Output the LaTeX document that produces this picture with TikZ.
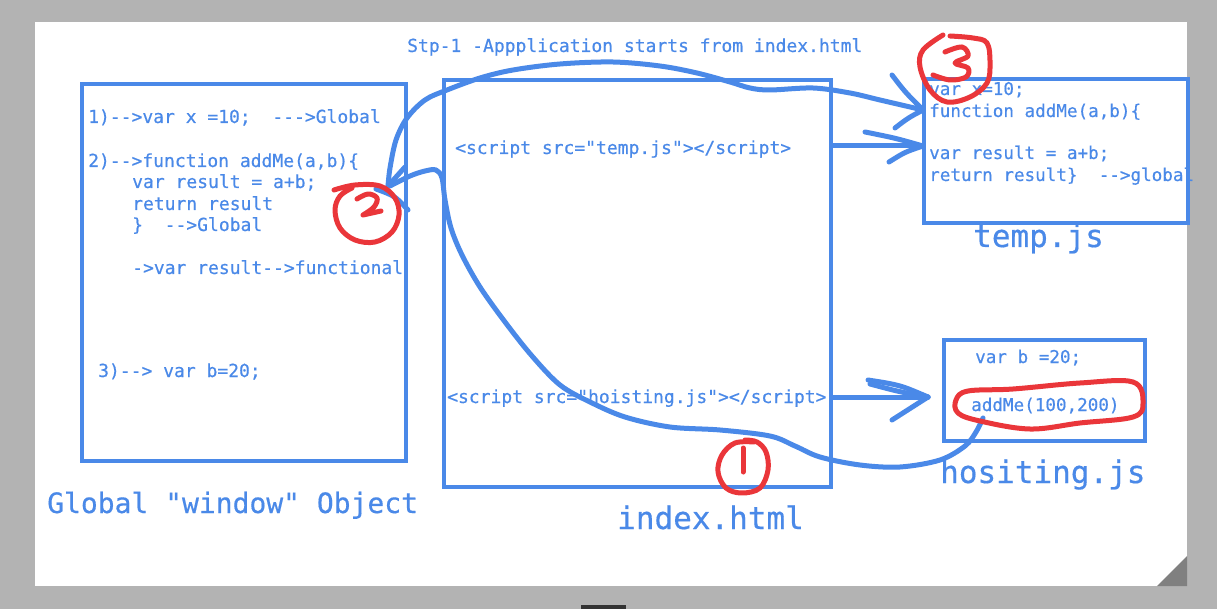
\documentclass[tikz,border=0pt]{standalone}
\usepackage{fontspec}
\setmonofont{DejaVu Sans Mono}[BoldFont={DejaVu Sans Mono}, BoldFeatures={FakeBold=0.45}]
\definecolor{hb}{RGB}{74,137,232}
\definecolor{hr}{RGB}{234,54,58}
\definecolor{bgg}{RGB}{179,179,179}
\begin{document}
\begin{tikzpicture}[x=1pt,y=-1pt,
  box/.style={draw=hb, line width=4pt, inner sep=0pt, anchor=north west},
  code/.style={text=hb, font=\ttfamily\bfseries\fontsize{18}{18}\selectfont, anchor=base west, inner sep=0pt},
  scode/.style={text=hb, font=\ttfamily\bfseries\fontsize{17.6}{18}\selectfont, anchor=base west, inner sep=0pt},
  big/.style={text=hb, font=\ttfamily\bfseries\fontsize{31}{31}\selectfont, anchor=base west, inner sep=0pt},
  bstroke/.style={draw=hb, line width=5pt, line cap=round, line join=round},
  rstroke/.style={draw=hr, line width=5pt, line cap=round, line join=round}]
\useasboundingbox (0,0) rectangle (1217,609);
\fill[bgg] (0,0) rectangle (1217,609);
\fill[white] (35,22) rectangle (1187,586);
\fill[black!50] (1157,586) -- (1187,586) -- (1187,556) -- cycle;
\fill[black!80] (581,605) rectangle (626,609);

% boxes
\node[box, minimum width=324pt, minimum height=377pt] (glob) at (80,82) {};
\node[box, minimum width=387pt, minimum height=407pt] (idx) at (442,78) {};
\node[box, minimum width=264pt, minimum height=144pt] (temp) at (922,77) {};
\node[box, minimum width=201pt, minimum height=101pt] (hois) at (942,338) {};

% title
\node[code] (title) at (407,52) {Stp-1 -Appplication starts from index.html};

% global box text
\node[code] (g1) at (88,123) {1)-{}->var x =10;~~-{}-{}->Global};
\node[code] (g2) at (88,167) {2)-{}->function addMe(a,b)\{};
\node[code] (g3) at (132,188) {var result = a+b;};
\node[code] (g4) at (132,210) {return result};
\node[code] (g5) at (132,231) {\}~~-{}->Global};
\node[code] (g6) at (132,274) {->var result-{}->functional};
\node[code] (g7) at (98,377) {3)-{}-> var b=20;};
\node[text=hb, font=\ttfamily\bfseries\fontsize{28}{28}\selectfont, anchor=base west, inner sep=0pt] (glab) at (47,513) {Global "window" Object};

% index text
\node[code] (s1) at (455,154) {<script src="temp.js"></script>};
\node[code] (s2) at (447,403) {<script src="hoisting.js"></script>};
\node[big] (ilab) at (617,529) {index.html};

% temp.js text
\node[scode] (t1) at (929,95) {var x=10;};
\node[scode] (t2) at (929,117) {function addMe(a,b)\{};
\node[scode] (t3) at (929,159) {var result = a+b;};
\node[scode] (t4) at (929,181) {return result\}~~-{}->global};
\node[big] (tlab) at (973,247) {temp.js};

% hositing.js text
\node[scode] (h1) at (975,363) {var b =20;};
\node[scode] (h2) at (971,411) {addMe(100,200)};
\node[big] (hlab) at (940,483) {hositing.js};

% named coordinates for hand-drawn connectors
\coordinate (tipA) at (923,146);
\coordinate (tipH) at (928,397);
\coordinate (tipB) at (923,110);
\coordinate (tip2) at (388,186);

% index -> temp.js
\draw[bstroke] (idx.east |- tipA) -- (tipA);
\draw[bstroke] (865,132) .. controls (895,138) .. (tipA);
\draw[bstroke] (889,162) .. controls (905,152) .. (tipA);

% index -> hositing.js
\draw[bstroke] (idx.east |- tipH) -- (tipH);
\draw[bstroke] (868,380) .. controls (900,385) .. (tipH);
\draw[bstroke] (870,384) .. controls (900,392) .. (tipH);
\draw[bstroke] (892,420) .. controls (910,408) .. (tipH);

% curve from addMe call back to global (2)
\draw[bstroke] plot[smooth, tension=0.55] coordinates {(983,418) (976,432) (965,446) (940,460) (900,467) (860,465) (820,457) (795,446) (770,436) (720,430) (670,427) (625,417) (590,402) (560,385) (532,356) (505,322) (480,287) (462,255) (451,228) (445,200) (442,178) (436,170) (425,171) (410,176) (390,186)};
\draw[bstroke] (405,167) -- (tip2);
\draw[bstroke] (376,189) .. controls (395,196) .. (408,210);

% curve from (2) over to temp.js (3)
\draw[bstroke] plot[smooth, tension=0.55] coordinates {(388,186) (390,168) (396,140) (407,118) (425,100) (447,90) (480,78) (513,70) (560,64) (613,62) (660,66) (697,73) (730,82) (750,88) (770,90) (813,88) (850,93) (880,100) (923,110)};
\draw[bstroke] (892,75) .. controls (905,92) .. (tipB);
\draw[bstroke] (895,128) .. controls (908,118) .. (tipB);

% red marks
% (1)
\draw[rstroke] plot[smooth, tension=0.6] coordinates {(754,442) (735,443) (722,455) (718,472) (726,488) (742,493) (760,488) (768,470) (766,452) (757,442) (745,440)};
\draw[rstroke] (743,448) -- (743,472);
% (2)
\draw[rstroke] plot[smooth, tension=0.6] coordinates {(334,190) (355,185) (380,186) (395,198) (399,215) (392,232) (375,242) (355,240) (340,228) (335,210) (340,196) (352,188)};
\draw[rstroke] plot[smooth, tension=0.6] coordinates {(357,199) (368,194) (377,198) (374,207) (363,215)} -- (381,211);
% (3)
\draw[rstroke] plot[smooth, tension=0.6] coordinates {(943,35) (923,50) (920,67) (930,90) (947,102) (970,97) (987,83) (990,63) (987,43) (973,38) (950,36)};
\draw[rstroke] plot[smooth, tension=0.6] coordinates {(945,52) (962,47) (968,56) (955,63) (968,68) (966,77) (950,80) (933,75)};
% addMe ellipse
\draw[rstroke] plot[smooth cycle, tension=0.6] coordinates {(968,391) (1013,389) (1080,383) (1133,382) (1143,403) (1133,417) (1080,423) (1030,429) (980,421) (958,413) (956,400)};
\end{tikzpicture}
\end{document}
